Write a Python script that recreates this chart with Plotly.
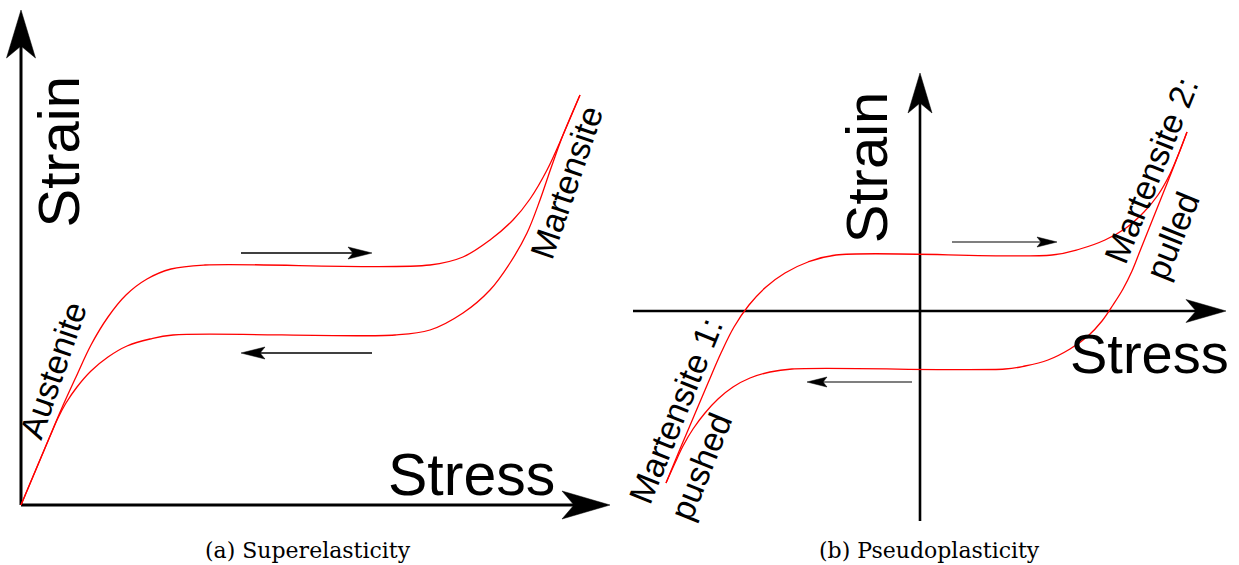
import math
import plotly.graph_objects as go

# ---------------- (a) Superelasticity : stress-strain loop (arbitrary units) ----------------
a_load_stress = [0, 24, 40, 55, 70, 87, 105, 126, 150, 184, 409, 442, 469, 492, 509, 526, 542, 559]
a_load_strain = [0, 57, 95, 128, 160, 188, 210, 226, 236, 240, 240, 248, 265, 285, 306, 335, 370, 410]
a_unload_stress = [559, 542, 530, 519, 506, 489, 469, 442, 409, 374, 152, 129, 106, 87, 70, 56, 45, 37, 30, 24, 0]
a_unload_strain = [410, 370, 337, 305, 272, 242, 215, 192, 175, 170, 170, 166, 159, 148, 134, 118, 102, 87, 71, 57, 0]

# ---------------- (b) Pseudoplasticity : stress-strain loop ----------------
b_load_stress = [-254, -240, -226, -212, -199, -186, -171, -154, -135, -112, -84,
                 132, 160, 185, 206, 224, 238, 250, 259, 267]
b_load_strain = [-172, -138, -105, -72, -42, -16, 6, 24, 38, 49, 56,
                 56, 62, 71, 83, 99, 116, 137, 158, 179]
b_unload_stress = [267, 259, 252, 244, 236, 228, 220, 212, 203, 193, 182, 168, 150, 128, 105, 85,
                   -128, -150, -170, -187, -202, -215, -227, -237, -245, -254]
b_unload_strain = [179, 158, 140, 120, 100, 80, 60, 40, 22, 6, -10, -25, -38, -49, -55, -58,
                   -58, -61, -67, -76, -88, -102, -118, -135, -152, -172]

# axis extents (stress axis, strain axis)
a_axis_stress = [0, 589]
a_axis_strain = [0, 495]
b_axis_stress = [-287, 306]
b_axis_strain = [-210, 238]

# direction-of-travel arrows: start stress, end stress, strain level
a_dir_start = [220, 351]
a_dir_end = [351, 220]
a_dir_level = [252, 152]
b_dir_start = [32, -8]
b_dir_end = [137, -113]
b_dir_level = [69, -71]

RED = "#ff0000"
BLACK = "#000000"
SANS = "Liberation Sans, Arial, sans-serif"
SERIF = "DejaVu Serif, serif"

fig = go.Figure()


def curve(xs, ys, xa, ya):
    fig.add_trace(go.Scatter(
        x=xs, y=ys, xaxis=xa, yaxis=ya, mode="lines",
        line=dict(color=RED, width=1.3, shape="spline", smoothing=1.0),
        hoverinfo="skip", showlegend=False))


def arrow(x0, y0, x1, y1, xa, ya, width, length, half, notch):
    """Straight shaft ending in a notched (stealth) head at (x1, y1)."""
    d = math.hypot(x1 - x0, y1 - y0)
    ux, uy = (x1 - x0) / d, (y1 - y0) / d
    px, py = -uy, ux
    bx, by = x1 - length * ux, y1 - length * uy
    nx, ny = x1 - (length - notch) * ux, y1 - (length - notch) * uy
    fig.add_trace(go.Scatter(
        x=[x0, nx], y=[y0, ny], xaxis=xa, yaxis=ya, mode="lines",
        line=dict(color=BLACK, width=width), hoverinfo="skip", showlegend=False))
    fig.add_trace(go.Scatter(
        x=[x1, bx + half * px, nx, bx - half * px, x1],
        y=[y1, by + half * py, ny, by - half * py, y1],
        xaxis=xa, yaxis=ya, mode="lines", fill="toself", fillcolor=BLACK,
        line=dict(color=BLACK, width=0.5), hoverinfo="skip", showlegend=False))


# panel (a)
arrow(a_axis_stress[0], 0, a_axis_stress[1], 0, "x", "y", 3, 48, 14, 12)
arrow(0, a_axis_strain[0], 0, a_axis_strain[1], "x", "y", 3, 48, 14.5, 12)
curve(a_load_stress, a_load_strain, "x", "y")
curve(a_unload_stress, a_unload_strain, "x", "y")
for s, e, lv in zip(a_dir_start, a_dir_end, a_dir_level):
    arrow(s, lv, e, lv, "x", "y", 1.3, 24, 6, 5)

# panel (b)
arrow(b_axis_stress[0], 0, b_axis_stress[1], 0, "x2", "y2", 2.6, 40, 11.5, 10)
arrow(0, b_axis_strain[0], 0, b_axis_strain[1], "x2", "y2", 2.6, 40, 12, 10)
curve(b_load_stress, b_load_strain, "x2", "y2")
curve(b_unload_stress, b_unload_strain, "x2", "y2")
for s, e, lv in zip(b_dir_start, b_dir_end, b_dir_level):
    arrow(s, lv, e, lv, "x2", "y2", 1.2, 20, 5, 4)


def label(text, x, y, xa, ya, size, angle=0, family=SANS, align="center"):
    fig.add_annotation(
        text=text, x=x, y=y, xref=xa, yref=ya, showarrow=False,
        textangle=angle, align=align, xanchor="center", yanchor="middle",
        font=dict(family=family, size=size, color=BLACK))


label("Strain", 36.5, 353, "x", "y", 58, -90)
label("Stress", 450.5, 30.5, "x", "y", 59)
label("Austenite", 32, 135, "x", "y", 34, -71)
label("Martensite", 545, 322.5, "x", "y", 34, -71)
label("(a) Superelasticity", 287, -45, "x", "y", 22, family=SERIF)

label("Strain", -53.3, 143.5, "x2", "y2", 58, -90)
label("Stress", 229, -42, "x2", "y2", 56)
label("Martensite 1:<br>pushed", -224, -108, "x2", "y2", 34, -68, align="left")
label("Martensite 2:<br>pulled", 251, 132.5, "x2", "y2", 34, -68, align="left")
label("(b) Pseudoplasticity", 9.5, -239, "x2", "y2", 22, family=SERIF)

hidden = dict(visible=False, showgrid=False, zeroline=False, fixedrange=True)
fig.update_layout(
    width=1239, height=565,
    margin=dict(l=0, r=0, t=0, b=0),
    paper_bgcolor="white", plot_bgcolor="white",
    xaxis=dict(domain=[0, 0.5], range=[-21, 598.5], **hidden),
    yaxis=dict(domain=[0, 1], range=[-60, 505], **hidden),
    xaxis2=dict(domain=[0.5, 1], range=[-300.5, 319], **hidden),
    yaxis2=dict(domain=[0, 1], range=[-254, 311], anchor="x2", **hidden),
    showlegend=False,
)

fig.write_html("out.html")
